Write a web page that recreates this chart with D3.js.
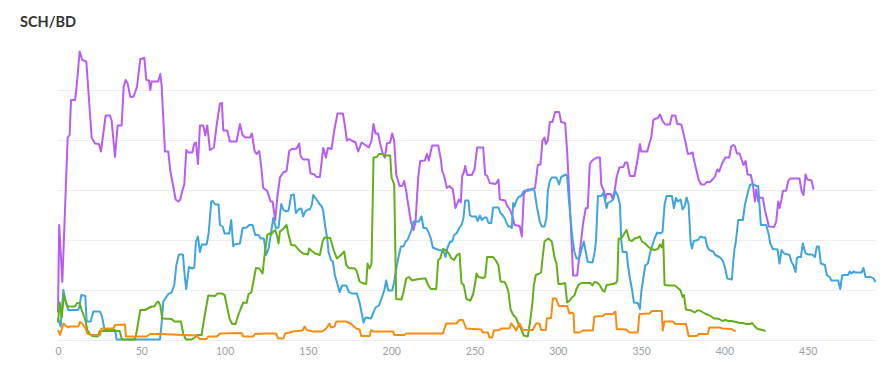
<!DOCTYPE html>
<html>
<head>
<meta charset="utf-8">
<script src="https://cdn.jsdelivr.net/npm/d3@7"></script>
<style>
  body { margin: 0; background: #fff; }
  svg { display: block; font-family: Lato, "Open Sans", sans-serif; }
</style>
</head>
<body>
<svg id="chart" width="894" height="388"></svg>
<script>
// series values, [index, value]
const purple = [[0,0.55],[0.7,2.3],[2.6,1.16],[5.8,4.05],[7,4.1],[7.8,4.8],[10.2,4.8],[11,5.0],[13,5.77],[14.6,5.6],[17,5.57],[20.2,4.05],[22.2,3.93],[24.6,3.92],[25.8,3.77],[28.6,4.49],[31.2,4.49],[32.2,4.39],[34.2,3.66],[35.8,4.29],[38.2,4.29],[39.4,5.06],[40.6,5.2],[41.8,5.13],[43.4,4.86],[45.4,4.87],[47.4,5.06],[49.4,5.62],[51.8,5.64],[53,5.2],[54.6,5.19],[55.4,5.0],[56.2,5.17],[60.2,5.17],[61.4,5.32],[62.2,5.1],[64.2,3.77],[66.2,3.77],[67.4,3.38],[69,3.11],[70.6,2.81],[72.2,2.77],[73.4,2.81],[74.6,2.98],[75.8,3.11],[77,3.8],[78.2,3.75],[80.6,3.75],[81.8,3.93],[82.8,3.95],[84,3.52],[85.2,4.29],[87.2,4.29],[88.4,4.09],[89.6,4.29],[91.2,3.8],[93.6,3.85],[95.2,4.29],[97.2,4.73],[98.4,4.74],[99.2,4.19],[101.6,4.19],[103.2,3.97],[107.2,3.97],[109.2,4.32],[110.8,4.1],[112.4,4.05],[115.2,4.05],[116.4,4.13],[118,3.78],[119.2,3.72],[120.8,3.78],[122,3.46],[123.2,3.04],[125.6,2.98],[127.6,2.77],[128.8,2.77],[130.4,2.4],[131.6,2.84],[133.2,3.25],[135.2,3.35],[137.2,3.38],[138.8,3.78],[140.4,3.82],[143.2,3.83],[144.8,3.93],[145.6,3.68],[147.2,3.61],[150.4,3.61],[151.6,3.33],[154,3.31],[155.2,3.26],[157.2,3.26],[159.2,3.84],[160.8,3.65],[162,3.84],[164.2,3.82],[165.8,4.19],[167.8,4.53],[171,4.53],[172.2,4.29],[173.4,3.99],[175,4.02],[176.2,3.99],[178.6,3.95],[180.2,3.77],[182.2,3.95],[185,3.89],[186.6,3.85],[188.2,3.99],[189.4,4.32],[190.6,4.13],[192.2,4.13],[193.4,3.92],[195,3.72],[196.2,3.65],[197.4,3.93],[199.4,3.95],[200.6,4.13],[201.8,3.99],[203,3.31],[205,3.08],[206.6,3.08],[207.8,3.18],[209,2.98],[210.2,2.71],[211.8,2.37],[213.4,2.2],[214.6,2.36],[216.2,3.25],[217.4,3.58],[220.2,3.59],[221.4,3.72],[222.6,3.59],[223.4,3.72],[224.6,3.89],[228.2,3.89],[229.8,3.62],[230.6,3.38],[231.8,3.28],[233.4,3.04],[235,3.08],[237,3.01],[238.6,2.64],[240.6,2.81],[241.8,2.75],[242.6,3.28],[243.6,3.35],[244.4,3.48],[245.6,3.3],[248.4,3.3],[250,3.41],[251.6,3.85],[255.2,3.85],[256.4,3.31],[257.6,3.28],[259.2,3.14],[262.8,3.12],[264.4,3.21],[265.2,2.81],[268.4,2.79],[269.2,2.71],[271.2,2.61],[272.8,2.47],[274,2.3],[276,2.29],[277.2,2.27],[278.4,2.07],[279.6,2.91],[280.8,2.99],[282.4,3.01],[285.2,3.01],[286.4,3.05],[288,3.5],[289.6,3.51],[290.8,3.99],[292,4.05],[292.8,3.92],[294,3.99],[295.2,4.36],[296.8,4.36],[298.4,4.56],[300.8,4.56],[302,4.36],[304.4,4.34],[305.6,3.78],[307.6,2.47],[309.2,1.29],[311.6,1.29],[313.2,1.76],[315.2,2.34],[316.8,2.64],[318,2.64],[319.2,3.52],[320.4,3.58],[322,3.62],[323.3,3.65],[325.3,3.65],[326.1,3.11],[327.7,2.98],[328.5,2.81],[329.3,2.92],[331.7,2.92],[332.9,2.83],[334.1,2.98],[335.3,3.25],[336.9,3.45],[339.3,3.46],[340.5,3.55],[341.7,3.55],[343.3,3.28],[346.1,3.28],[348.1,3.65],[349.3,3.92],[350.1,3.77],[353.7,3.77],[354.9,3.92],[356.1,4.05],[357.3,4.39],[358.1,4.42],[360.1,4.44],[361.3,4.51],[362.9,4.38],[364.5,4.31],[367.3,4.31],[368.5,4.49],[370.5,4.49],[371.7,4.32],[374.1,4.31],[375.3,4.15],[376.9,3.92],[378.1,3.72],[379.7,3.73],[380.9,3.75],[382.1,3.55],[383.3,3.38],[384.5,3.21],[386.1,3.11],[388.1,3.11],[389.3,3.16],[391.3,3.16],[392.9,3.21],[394.5,3.28],[395.7,3.41],[396.9,3.37],[398.5,3.52],[400.5,3.65],[402.9,3.65],[404.1,3.87],[405.3,3.9],[406.3,3.88],[407.5,3.73],[409.1,3.73],[410.3,3.61],[411.5,3.5],[412.7,3.58],[413.9,3.31],[415.9,3.3],[417.1,3.11],[418.3,2.77],[419.1,3.01],[420.3,2.77],[421.1,2.85],[423.1,2.84],[424.3,2.6],[425.5,2.44],[426.7,2.27],[429.9,2.26],[431.1,2.37],[432.3,2.77],[433.1,2.64],[434.3,2.81],[435.1,2.98],[437.1,2.99],[438.3,3.18],[439.5,3.23],[445.1,3.23],[446.3,2.98],[447.5,2.9],[448.7,3.31],[449.9,3.21],[452.3,3.19],[453.5,3.01]];

const blue = [[0,0.44],[1.6,0.27],[3.2,1.0],[4.4,0.8],[6.2,0.6],[12.2,0.6],[13,0.7],[14,0.9],[16.4,0.88],[17.2,0.37],[19.6,0.37],[21.2,0.57],[25.2,0.57],[26.4,0.47],[28,0.2],[34.2,0.2],[35.2,0.01],[61.2,0.01],[62.2,0.33],[63.2,0.77],[66.2,0.92],[68.2,0.95],[69.8,1.1],[71,1.49],[72.6,1.71],[75,1.71],[76.2,1.23],[77,1.02],[78.6,1.46],[80.6,1.43],[81.8,1.45],[82.8,1.97],[84,2.07],[85.2,1.76],[86.4,1.91],[89.2,1.91],[90.4,2.13],[92,2.77],[92.8,2.78],[94.4,2.71],[96.4,2.71],[97.2,2.3],[98.8,2.27],[100,2.13],[102.8,2.13],[104,2.4],[105.2,1.87],[106,1.91],[109.2,1.93],[110.8,2.24],[113.2,2.25],[114.8,2.3],[116.8,2.3],[118.4,2.1],[120.4,2.1],[121.6,2.03],[123.6,2.03],[124.8,1.7],[126.4,1.83],[128,2.17],[129.2,2.44],[130.8,2.24],[132.4,2.25],[134,2.72],[135.2,2.61],[136.8,2.57],[138.4,2.59],[140,2.9],[141.6,2.91],[142.8,2.54],[144.4,2.61],[146,2.63],[147.2,2.47],[148.4,2.57],[150,2.61],[151.2,2.61],[152.4,2.71],[153.2,2.9],[154.8,2.83],[157.2,2.71],[158.4,2.67],[159.2,2.57],[160.4,2.27],[161.6,2.03],[162.4,1.76],[163.8,1.6],[165,1.57],[166.2,1.29],[167.4,1.16],[169,0.96],[170.6,1.09],[173,1.09],[174.6,0.96],[176.2,0.93],[179.4,0.93],[181,0.75],[182.2,0.55],[183.4,0.35],[184.6,0.45],[187.8,0.43],[189.4,0.55],[190.6,0.65],[192.6,0.69],[194.2,0.83],[195.8,0.99],[197,1.19],[198.2,0.99],[200.6,0.99],[201.8,1.16],[203,1.43],[204.2,1.63],[205.8,1.87],[207.4,1.87],[208.6,1.97],[209.8,2.0],[211,2.1],[212.2,2.2],[213.4,2.37],[216.6,2.37],[218.2,2.47],[219.4,2.24],[221,2.24],[222.2,2.17],[223.8,2.03],[225,1.85],[227,1.82],[228.6,1.8],[231.4,1.78],[232.6,1.66],[233.8,1.85],[235.4,1.97],[236.6,1.97],[237.8,2.1],[239.4,2.14],[241,2.25],[242.2,2.3],[243.4,2.44],[244.4,2.79],[246.4,2.79],[247.2,2.5],[248.4,2.47],[250.8,2.47],[252,2.38],[253.2,2.49],[254.4,2.4],[256,2.45],[257.2,2.45],[258.4,2.34],[260,2.34],[261.2,2.65],[264.4,2.65],[265.6,2.54],[266.8,2.5],[268.4,2.42],[269.2,2.34],[270.4,2.27],[271.6,2.27],[272.4,2.24],[273.2,2.74],[274,2.67],[275.2,2.79],[276.4,2.86],[278,2.88],[279.6,2.98],[283.2,2.99],[284.8,3.03],[286,2.98],[287.6,2.64],[289.2,2.37],[290.4,2.27],[292,2.27],[293.2,2.44],[294,2.98],[295.2,3.18],[296.4,3.25],[299.2,3.25],[300.8,3.11],[302,3.26],[304.8,3.31],[305.6,3.28],[306.4,2.91],[307.6,2.44],[308.8,2.03],[310,1.76],[311.2,1.63],[312.8,1.63],[314.4,1.83],[315.6,1.97],[316.8,1.76],[318,1.56],[320.8,1.55],[322,1.73],[322.9,1.97],[324.1,2.88],[326.1,2.88],[327.3,2.94],[328.5,2.77],[329.3,2.64],[330.1,2.74],[331.7,2.77],[333.3,2.81],[334.5,2.98],[336.1,2.88],[337.3,2.71],[338.1,2.0],[338.9,1.76],[341.3,1.76],[342.1,1.49],[343.3,1.23],[344.5,1.02],[345.7,0.75],[348.1,0.74],[349.3,0.62],[350.1,0.96],[351.3,1.23],[352.5,1.49],[354.1,1.53],[355.3,1.73],[356.5,1.87],[358.1,2.03],[359.7,2.15],[361.7,2.13],[362.9,2.17],[364.1,2.71],[365.3,2.88],[368.5,2.88],[369.7,2.64],[370.9,2.84],[372.1,2.77],[373.7,2.81],[374.9,2.61],[376.1,2.67],[377.3,2.85],[378.5,2.71],[379.7,1.97],[380.5,1.83],[381.7,1.98],[384.1,2.0],[385.7,2.07],[387.3,2.05],[388.5,2.05],[389.7,1.87],[390.9,1.8],[393.3,1.77],[394.5,1.7],[396.9,1.66],[398.1,1.63],[399.3,1.56],[400.5,1.43],[401.7,1.23],[404.5,1.21],[405.3,1.56],[406.1,1.83],[406.7,1.92],[408.3,2.4],[411.1,2.4],[412.3,2.7],[414.3,2.98],[415.5,3.11],[417.9,3.11],[419.1,3.08],[420.3,3.08],[421.9,2.3],[425.1,2.3],[426.7,2.1],[427.5,1.93],[429.1,1.82],[431.9,1.81],[433.1,1.53],[434.3,1.8],[435.9,1.73],[439.1,1.7],[440.3,1.56],[441.5,1.49],[442.7,1.36],[443.5,1.63],[444.3,1.66],[445.9,1.66],[447.1,1.93],[448.7,1.73],[450.7,1.71],[452.7,1.71],[454.3,1.66],[455.5,1.87],[456.7,1.87],[457.9,1.53],[460.3,1.5],[461.5,1.3],[463.1,1.26],[464.3,1.19],[468.3,1.19],[469.5,1.02],[470.7,1.29],[471.9,1.3],[474.3,1.3],[475.1,1.37],[476.3,1.33],[477.5,1.37],[478.7,1.35],[482.3,1.35],[483.5,1.44],[484.7,1.26],[487.9,1.26],[489.5,1.23],[490.7,1.16]];

const green = [[0,0.35],[1,0.75],[2.2,0.45],[3.6,0.9],[5.4,0.68],[6.6,0.67],[10.2,0.67],[11.4,0.74],[13,0.74],[14,0.62],[16.4,0.4],[17.6,0.2],[19.4,0.11],[20.6,0.08],[23.8,0.07],[25,0.18],[37,0.18],[38.4,0.01],[46.2,0.01],[47.4,0.2],[49.4,0.6],[52.2,0.6],[55,0.65],[56.2,0.67],[57.8,0.67],[59.4,0.75],[60.2,0.77],[61.4,0.69],[62.6,0.43],[68.2,0.42],[69.8,0.37],[73.8,0.37],[75.2,0.12],[76.8,0.01],[80.2,0.01],[82.2,0.05],[83.2,0.1],[86.2,0.1],[87.6,0.4],[90.2,0.89],[94.4,0.88],[95.6,0.93],[98.2,0.93],[100,0.9],[101.4,0.68],[103,0.42],[104.6,0.32],[106.6,0.32],[108,0.48],[109.6,0.62],[111.2,0.75],[113.2,0.74],[114.4,0.92],[116,0.95],[117.2,1.15],[118.8,1.44],[120.8,1.43],[122.8,1.33],[124,1.7],[125.6,2.1],[126.8,2.13],[128,2.11],[129.2,2.17],[130.4,2.2],[131.6,2.07],[132.4,1.93],[133.2,2.17],[135.2,2.22],[137.2,2.3],[138.4,2.1],[140,1.9],[142.4,1.89],[144,1.82],[145.2,1.78],[147.2,1.73],[150,1.71],[150.8,1.83],[152.4,1.78],[154.4,1.73],[157.2,1.7],[158.8,1.97],[160,2.05],[163.4,2.04],[164.6,1.9],[165.8,1.77],[167.4,1.63],[169.8,1.7],[171.8,1.77],[173,1.5],[174.6,1.44],[178.2,1.43],[179.4,1.37],[181,1.17],[182.6,1.14],[185,1.12],[185.8,1.53],[187,1.43],[188.2,1.53],[189.4,3.65],[191.4,3.66],[192.6,3.72],[195,3.72],[196.2,3.69],[199.4,3.69],[200.2,3.25],[201.8,3.11],[203,0.82],[206.2,0.81],[207.4,0.96],[209,1.23],[210.6,1.26],[212.6,1.19],[215,1.21],[219.4,1.23],[220.6,1.23],[222.2,1.1],[223.8,1.02],[227,1.02],[228.2,1.6],[229.4,1.63],[231,1.82],[232.6,1.8],[234.6,1.73],[236.2,1.63],[237.8,1.6],[239.4,1.7],[241,1.73],[242.2,1.14],[243.6,1.09],[245.2,0.82],[247.6,0.79],[249.2,0.92],[250.4,1.14],[251.2,1.33],[252.4,1.26],[255.2,1.24],[256.4,1.26],[257.6,1.66],[261.2,1.66],[262.8,1.59],[264.4,1.49],[265.6,1.17],[268,1.16],[269.2,1.09],[270.4,0.96],[271.6,0.62],[273.2,0.5],[274.8,0.45],[276.4,0.32],[278,0.22],[279.6,0.09],[282,0.07],[283.6,0.42],[284.8,0.75],[285.6,1.09],[286.8,1.3],[288.4,1.32],[290,1.35],[290.8,1.62],[292,1.97],[294.4,2.03],[296.4,1.97],[298,1.66],[299.2,1.53],[300.4,1.12],[302,1.12],[304.4,1.14],[305.6,0.75],[307.2,0.79],[308.4,0.85],[310,0.89],[311.2,1.02],[312.4,1.1],[314,1.14],[319.6,1.14],[320.8,1.09],[322,1.16],[324.1,1.14],[325.3,1.09],[326.9,0.99],[328.1,0.97],[329.3,1.1],[333.3,1.12],[334.9,1.14],[335.7,1.19],[336.5,2.03],[337.7,2.03],[339.3,2.09],[340.5,2.16],[341.3,2.2],[342.9,2.0],[344.5,1.98],[346.1,2.03],[348.1,2.05],[349.3,2.07],[350.5,1.97],[352.1,1.94],[354.1,1.87],[356.1,1.82],[358.1,1.8],[360.1,1.82],[361.3,1.91],[362.5,1.85],[363.3,2.0],[364.1,1.1],[366.5,1.09],[370.1,1.09],[372.1,1.04],[373.7,0.99],[374.9,0.86],[375.7,0.9],[376.9,0.61],[380.1,0.59],[382.1,0.55],[383.7,0.59],[385.3,0.59],[387.3,0.55],[388.9,0.52],[390.5,0.5],[392.1,0.47],[393.7,0.43],[395.3,0.43],[396.9,0.42],[398.9,0.38],[400.5,0.4],[402.5,0.38],[404.1,0.38],[407.1,0.36],[409.1,0.34],[411.1,0.34],[413.1,0.32],[415.5,0.32],[416.7,0.34],[418.3,0.27],[419.9,0.22],[423.1,0.2],[424.7,0.18]];

const orange = [[0,0.2],[1.2,0.1],[2.4,0.23],[3.2,0.33],[5.2,0.27],[6.2,0.25],[7.2,0.27],[12.2,0.27],[13.2,0.36],[14.6,0.33],[16.4,0.24],[17.6,0.13],[20,0.1],[25.2,0.1],[26.2,0.23],[33.2,0.23],[34.2,0.3],[40.2,0.31],[40.8,0.07],[53.2,0.07],[55.2,0.12],[61.2,0.12],[83,0.09],[85.2,0.02],[89.2,0.02],[90.2,0.07],[95.4,0.07],[97.2,0.13],[110.2,0.14],[111.2,0.07],[117.2,0.07],[118.2,0.12],[125.2,0.13],[130.8,0.13],[132.2,0.03],[135.2,0.03],[136.4,0.13],[139,0.15],[141,0.17],[146.8,0.19],[148,0.27],[149.5,0.2],[153,0.17],[158.6,0.17],[161,0.23],[163,0.33],[164,0.25],[166,0.27],[167,0.37],[173,0.37],[176,0.32],[179,0.23],[181,0.21],[182,0.08],[187,0.08],[188,0.2],[189,0.17],[201,0.17],[202,0.1],[208,0.1],[209,0.13],[231,0.13],[232,0.23],[233,0.33],[239,0.33],[241,0.4],[243,0.4],[245,0.23],[254,0.21],[255,0.15],[258,0.15],[259,0.05],[260.6,0.05],[261.6,0.19],[265,0.2],[266,0.23],[271,0.23],[272,0.33],[273.5,0.27],[275,0.19],[277,0.33],[279,0.2],[285,0.2],[287,0.33],[289,0.33],[290,0.2],[292.8,0.2],[293.4,0.43],[296,0.44],[297,0.83],[299,0.83],[300.6,0.68],[305.6,0.68],[307,0.53],[308.6,0.55],[309.4,0.53],[310,0.15],[313,0.15],[315,0.19],[321,0.19],[322,0.47],[327,0.48],[328.6,0.52],[333,0.52],[334.6,0.57],[335.4,0.22],[341,0.21],[343,0.15],[348,0.15],[349,0.52],[355,0.53],[356.4,0.58],[362.4,0.58],[363,0.19],[364,0.37],[369,0.37],[370.6,0.32],[377,0.32],[378.5,0.08],[383.4,0.08],[384.6,0.12],[390,0.12],[391,0.25],[397,0.25],[399,0.23],[404.3,0.22],[406.8,0.17]];

const seriesList = [
  {name: "purple", color: "#b95cf4", values: purple},
  {name: "blue", color: "#3ea5dd", values: blue},
  {name: "green", color: "#62b018", values: green},
  {name: "orange", color: "#f68c10", values: orange}
];
const xTicks = [0, 50, 100, 150, 200, 250, 300, 350, 400, 450];
const yTicks = [0, 1, 2, 3, 4, 5];

const width = 894, height = 388;
const svg = d3.select("#chart");

const x = d3.scaleLinear().domain([0, 491]).range([58, 876]);
const y = d3.scaleLinear().domain([0, 5.8]).range([340, 50]);

// title
svg.append("text")
    .attr("x", 20)
    .attr("y", 27)
    .attr("fill", "#333")
    .style("font-size", "14.5px")
    .style("font-weight", "bold")
    .text("SCH/BD");

// horizontal grid
svg.append("g")
    .attr("class", "grid")
    .selectAll("line")
    .data(yTicks)
    .enter().append("line")
    .attr("x1", x(0))
    .attr("x2", x(491))
    .attr("y1", d => Math.round(y(d)) + 0.5)
    .attr("y2", d => Math.round(y(d)) + 0.5)
    .attr("stroke", "#eeeeee")
    .attr("stroke-width", 1);

// x axis labels only
const xAxis = svg.append("g")
    .attr("transform", "translate(0," + 344 + ")")
    .call(d3.axisBottom(x).tickValues(xTicks).tickSize(0).tickPadding(0));
xAxis.select(".domain").remove();
xAxis.selectAll("text")
    .attr("dy", "0")
    .attr("y", 11)
    .attr("fill", "#9ba1a5")
    .style("font-size", "10.5px")
    .style("font-family", "Lato, 'Open Sans', sans-serif");

const line = d3.line()
    .x(d => x(d[0]))
    .y(d => y(d[1]));

svg.append("g")
    .attr("class", "lines")
    .selectAll("path")
    .data(seriesList)
    .enter().append("path")
    .attr("fill", "none")
    .attr("stroke", d => d.color)
    .attr("stroke-width", 2)
    .attr("stroke-linejoin", "round")
    .attr("d", d => line(d.values));
</script>
</body>
</html>
